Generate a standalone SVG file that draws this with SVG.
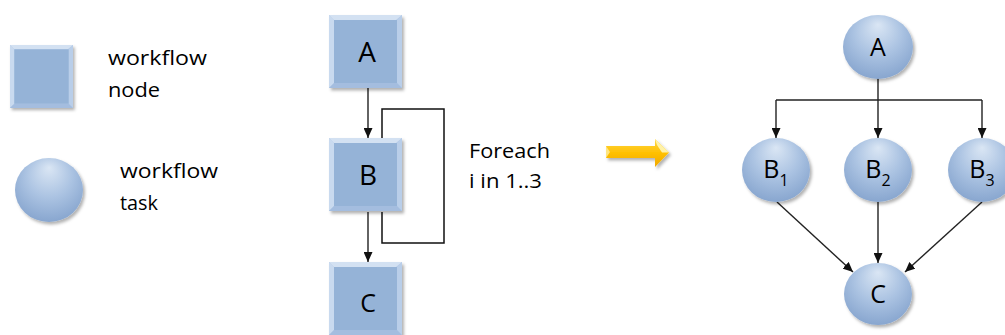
<svg xmlns="http://www.w3.org/2000/svg" width="1005" height="335" viewBox="0 0 1005 335">
  <style>
    .lbl { font-family: "Open Sans", "Liberation Sans", sans-serif; fill: #000; }
    .legend { font-size: 20px; }
    .letter { font-family: "Open Sans", "Liberation Sans", sans-serif; fill: #000; text-anchor: middle; }
    .edge { fill: none; stroke: #222; stroke-width: 1.4; }
    .loop { fill: none; stroke: #111; stroke-width: 1.5; }
    .box-outer { fill: #b4cae7; }
    .box-inner { fill: #95b3d7; }
    .task { fill: url(#taskFill); }
  </style>
  <defs>
    <radialGradient id="taskFill" cx="0.5" cy="0.38" r="0.62" fx="0.5" fy="0.15">
      <stop offset="0" stop-color="#dae6f4"/>
      <stop offset="0.55" stop-color="#abc3e2"/>
      <stop offset="1" stop-color="#88a6cf"/>
    </radialGradient>
    <linearGradient id="arrowFill" x1="0" y1="0" x2="0" y2="1">
      <stop offset="0" stop-color="#ffd84a"/>
      <stop offset="0.5" stop-color="#ffc000"/>
      <stop offset="1" stop-color="#f0a800"/>
    </linearGradient>
    <filter id="shadow" x="-20%" y="-20%" width="150%" height="150%">
      <feDropShadow dx="2" dy="2.5" stdDeviation="1.8" flood-color="#000" flood-opacity="0.3"/>
    </filter>
    <marker id="head" markerUnits="userSpaceOnUse" markerWidth="10" markerHeight="9" refX="10" refY="4.5" orient="auto">
      <path d="M0,0 L10,4.5 L0,9 z" fill="#111"/>
    </marker>
    <!-- bevelled square node, 73 x 73 -->
    <g id="boxShape">
      <rect class="box-outer" x="0" y="0" width="73" height="73"/>
      <polygon points="0,0 73,0 67,5 5,5" fill="#d3e1f2"/>
      <polygon points="0,0 5,5 5,68 0,73" fill="#c9daef"/>
      <polygon points="73,0 73,73 68,68 68,5" fill="#b9cee9"/>
      <polygon points="0,73 73,73 68,68 5,68" fill="#a4bddf"/>
      <rect class="box-inner" x="5" y="5" width="63" height="63"/>
    </g>
  </defs>

  <!-- legend -->
  <g id="legend-node">
    <use href="#boxShape" transform="translate(10,45) scale(0.863)" filter="url(#shadow)"/>
    <text class="lbl legend" x="108" y="65" textLength="99" lengthAdjust="spacingAndGlyphs">workflow</text>
    <text class="lbl legend" x="108" y="97" textLength="52" lengthAdjust="spacingAndGlyphs">node</text>
  </g>
  <g id="legend-task">
    <ellipse class="task" cx="49" cy="190" rx="34" ry="32" filter="url(#shadow)"/>
    <text class="lbl legend" x="120" y="178" textLength="98" lengthAdjust="spacingAndGlyphs">workflow</text>
    <text class="lbl legend" x="120" y="210" textLength="38" lengthAdjust="spacingAndGlyphs">task</text>
  </g>

  <!-- connectors -->
  <g id="connectors">
    <line class="edge" x1="368" y1="88" x2="368" y2="138" marker-end="url(#head)"/>
    <line class="edge" x1="368" y1="212" x2="368" y2="262" marker-end="url(#head)"/>
    <path class="loop" d="M382,138 V109 H444 V243 H382 V212"/>

    <line class="edge" x1="878" y1="78" x2="878" y2="100"/>
    <path class="edge" d="M776,100 H982"/>
    <line class="edge" x1="776" y1="100" x2="776" y2="138" marker-end="url(#head)"/>
    <line class="edge" x1="878" y1="100" x2="878" y2="138" marker-end="url(#head)"/>
    <line class="edge" x1="982" y1="100" x2="982" y2="138" marker-end="url(#head)"/>

    <line class="edge" x1="777" y1="202" x2="853" y2="272" marker-end="url(#head)"/>
    <line class="edge" x1="878" y1="202" x2="878" y2="263" marker-end="url(#head)"/>
    <line class="edge" x1="982" y1="202" x2="905" y2="272" marker-end="url(#head)"/>
  </g>

  <!-- foreach workflow -->
  <g id="node-A">
    <use href="#boxShape" transform="translate(329,15)" filter="url(#shadow)"/>
    <text class="letter" x="367" y="62" font-size="28">A</text>
  </g>
  <g id="node-B">
    <use href="#boxShape" transform="translate(329,138)" filter="url(#shadow)"/>
    <text class="letter" x="368" y="185" font-size="28">B</text>
  </g>
  <g id="node-C">
    <use href="#boxShape" transform="translate(329,262)" filter="url(#shadow)"/>
    <text class="letter" x="368" y="312" font-size="25">C</text>
  </g>
  <text class="lbl" x="469" y="158" font-size="20" textLength="81" lengthAdjust="spacingAndGlyphs">Foreach</text>
  <text class="lbl" x="469" y="188" font-size="20" textLength="73" lengthAdjust="spacingAndGlyphs">i in 1..3</text>

  <!-- expansion arrow -->
  <g id="expand-arrow" filter="url(#shadow)">
    <polygon points="606,146 655,146 655,139 669,152.5 655,167 655,158 606,158" fill="url(#arrowFill)"/>
    <polygon points="606,146 610,152 606,158" fill="#ffe680"/>
    <polygon points="655,139 669,152.5 662,152.5 657,145" fill="#fff2a8"/>
  </g>

  <!-- expanded task graph -->
  <g id="task-A">
    <ellipse class="task" cx="878" cy="47" rx="35" ry="32" filter="url(#shadow)"/>
    <text class="letter" x="878" y="56" font-size="25">A</text>
  </g>
  <g id="task-B1">
    <ellipse class="task" cx="776" cy="170" rx="34" ry="32" filter="url(#shadow)"/>
    <text class="letter" x="776" y="178" font-size="25">B<tspan font-size="16" dy="8">1</tspan></text>
  </g>
  <g id="task-B2">
    <ellipse class="task" cx="878" cy="170" rx="34" ry="32" filter="url(#shadow)"/>
    <text class="letter" x="878" y="178" font-size="25">B<tspan font-size="16" dy="8">2</tspan></text>
  </g>
  <g id="task-B3">
    <ellipse class="task" cx="982" cy="170" rx="34" ry="32" filter="url(#shadow)"/>
    <text class="letter" x="982" y="178" font-size="25">B<tspan font-size="16" dy="8">3</tspan></text>
  </g>
  <g id="task-C">
    <ellipse class="task" cx="878" cy="294" rx="34" ry="31" filter="url(#shadow)"/>
    <text class="letter" x="878" y="303" font-size="25">C</text>
  </g>
</svg>
